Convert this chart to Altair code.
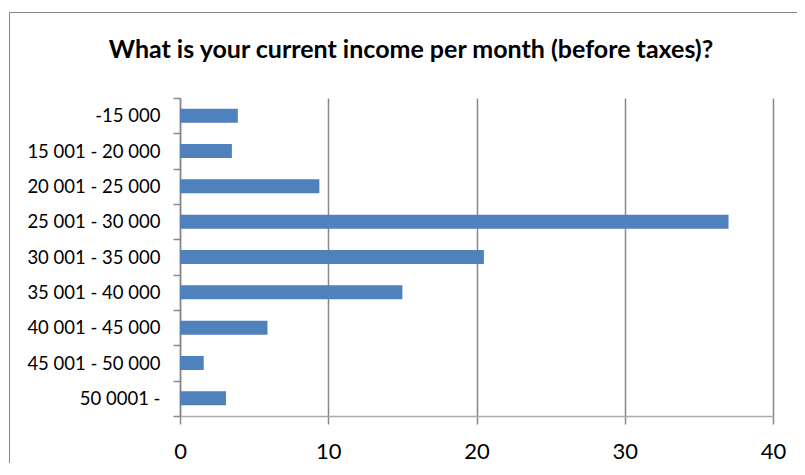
import altair as alt
import pandas as pd

categories = ["-15 000", "15 001 - 20 000", "20 001 - 25 000", "25 001 - 30 000",
              "30 001 - 35 000", "35 001 - 40 000", "40 001 - 45 000", "45 001 - 50 000",
              "50 0001 -"]
values = [3.9, 3.5, 9.4, 37.0, 20.5, 15.0, 5.9, 1.6, 3.1]
x_ticks = [0, 10, 20, 30, 40]
title_text = "What is your current income per month (before taxes)?"

df = pd.DataFrame({"category": categories, "value": values})

FONT = "Lato"
GRAY = "#888888"

bars = alt.Chart(df).mark_bar(size=14, color="#4F81BD").encode(
    y=alt.Y("category:N", sort=categories,
            scale=alt.Scale(paddingInner=0, paddingOuter=0),
            axis=alt.Axis(title=None, tickBand="extent", tickSize=7, tickColor=GRAY,
                          domainColor=GRAY, domainWidth=1.5, tickWidth=1.5,
                          labelFont=FONT, labelFontSize=18.5, labelColor="black",
                          labelPadding=13, grid=False)),
    x=alt.X("value:Q", scale=alt.Scale(domain=[0, 40], nice=False),
            axis=alt.Axis(title=None, values=x_ticks, grid=True, gridColor=GRAY,
                          gridWidth=1.5, domainColor="#aaaaaa", domainWidth=1.5,
                          tickColor=GRAY, tickWidth=1.5, tickSize=8,
                          labelFont=FONT, labelFontSize=22, labelColor="black",
                          labelPadding=17, labelFlush=False)),
)

frame = alt.Chart(df).mark_rect(fill=None, stroke=GRAY, strokeWidth=1).encode(
    x=alt.value(-170.5), x2=alt.value(700), y=alt.value(-85.5), y2=alt.value(400)
)

title = alt.Chart(pd.DataFrame({"t": [title_text]})).mark_text(
    font=FONT, fontSize=25, fontWeight="bold", color="black",
    align="center", baseline="alphabetic"
).encode(text="t:N", x=alt.value(231), y=alt.value(-40))

chart = alt.layer(frame, bars, title).properties(
    width=593, height=318,
    autosize=alt.AutoSizeParams(type="none"),
    padding={"left": 172, "top": 90, "right": 24, "bottom": 47},
).configure_view(stroke=None)

chart.save("out.html", embed_options={"renderer": "svg", "actions": False})
